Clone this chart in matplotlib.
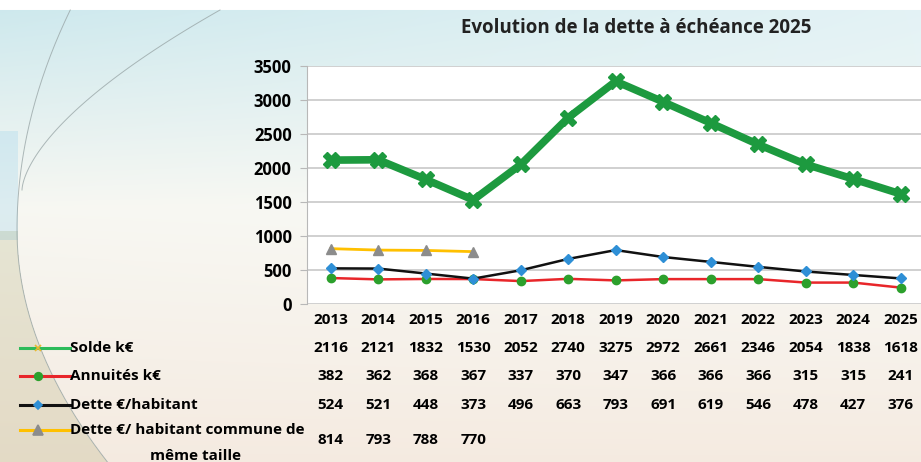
import numpy as np
import matplotlib
matplotlib.use("Agg")
import matplotlib.pyplot as plt
from matplotlib.transforms import blended_transform_factory

years = ["2013", "2014", "2015", "2016", "2017", "2018", "2019", "2020",
         "2021", "2022", "2023", "2024", "2025"]
solde = [2116, 2121, 1832, 1530, 2052, 2740, 3275, 2972, 2661, 2346, 2054, 1838, 1618]
annuites = [382, 362, 368, 367, 337, 370, 347, 366, 366, 366, 315, 315, 241]
dette_hab = [524, 521, 448, 373, 496, 663, 793, 691, 619, 546, 478, 427, 376]
dette_commune = [814, 793, 788, 770]
series_labels = ["Solde k€", "Annuités k€", "Dette €/habitant",
                 "Dette €/ habitant commune de\nmême taille"]
title = "Evolution de la dette à échéance 2025"

plt.rcParams['font.family'] = ['Open Sans', 'DejaVu Sans']

W, H = 921, 462
fig = plt.figure(figsize=(W / 100, H / 100), dpi=100)

# background gradient
bg = fig.add_axes([0, 0, 1, 1], zorder=-10)
yy = np.linspace(0, 1, H)[:, None]
xx = np.linspace(0, 1, W)[None, :]
top = np.array([0.80, 0.91, 0.93])
mid = np.array([0.97, 0.97, 0.95])
bot = np.array([0.96, 0.92, 0.88])
t = np.clip(yy / 0.45, 0, 1)[..., None]
t2 = np.clip((yy - 0.45) / 0.55, 0, 1)[..., None]
img = np.where(yy[..., None] < 0.45,
               top * (1 - t) + mid * t,
               mid * (1 - t2) + bot * t2)
img = img * np.ones((1, W, 1))
img = img + (1 - img) * (0.45 * xx[..., None] * (1 - yy[..., None]))
ypix = np.arange(H)[:, None]
xpix = np.arange(W)[None, :]
# subtle blue band at far left
band = np.broadcast_to((xpix < 18) & (ypix > 130) & (ypix < 240), (H, W))
img[band] = img[band] * 0.75 + np.array([0.55, 0.80, 0.92]) * 0.25
img[:10, :, :] = 1.0
# greyish area left of lower curve
ca = 17 + 0.00168 * (ypix - 230) ** 2
lower = np.broadcast_to((ypix > 230) & (xpix < ca), (H, W))
img[lower] = img[lower] * np.array([0.93, 0.93, 0.88])
bg.imshow(img, aspect='auto', extent=[0, W, H, 0], origin='upper')
yc = np.linspace(10, 462, 200)
kx = np.where(yc > 230, 0.00168, 0.0011)
bg.plot(17 + kx * (yc - 230) ** 2, yc, color='#9aa7a8', lw=0.7, alpha=0.8)
yc2 = np.linspace(10, 190, 100)
bg.plot(22 + 198 * ((190 - yc2) / 180) ** 1.6, yc2, color='#9aa7a8', lw=0.7, alpha=0.8)
bg.set_xlim(0, W)
bg.set_ylim(H, 0)
bg.axis('off')

x = np.arange(len(years))
ax = fig.add_axes([307 / W, 1 - 304 / H, 13 * 47.5 / W, (304 - 66) / H])
ax.set_facecolor('white')
ax.set_xlim(-0.5, len(years) - 0.5)
ax.set_ylim(0, 3500)
ax.set_yticks(np.arange(0, 3501, 500))
ax.grid(axis='y', color='#c8c8c8', linewidth=1.2)
ax.set_axisbelow(True)
for s in ['top', 'right', 'bottom']:
    ax.spines[s].set_visible(False)
ax.spines['left'].set_color('#b8b8b8')
ax.tick_params(axis='y', length=5, color='#b8b8b8', labelsize=12, pad=6)
ax.tick_params(axis='x', length=0, labelbottom=False)
for lab in ax.get_yticklabels():
    lab.set_fontweight('bold')

ax.plot(x, annuites, color='#e8262a', lw=1.8, marker='o', ms=6,
        mfc='#2ca02c', mec='#2ca02c', zorder=3)
ax.plot(x, dette_hab, color='#111111', lw=1.8, marker='D', ms=5,
        mfc='#2e8fd6', mec='#2e8fd6', zorder=3)
ax.plot(x[:len(dette_commune)], dette_commune, color='#ffc000', lw=2,
        marker='^', ms=7, mfc='#8c8c8c', mec='#8c8c8c', zorder=3)
ax.plot(x, solde, color='#1d9a3f', lw=5.5, marker='X', ms=11,
        mfc='#1d9a3f', mec='#1d9a3f', zorder=4)

fig.text(636 / W, 1 - 28 / H, title, ha='center', va='center',
         fontsize=13.5, fontweight='bold', color='#222222')

tr = blended_transform_factory(ax.transData, fig.transFigure)
def fy(p):
    return 1 - p / H

FS = 11
for i, yr in enumerate(years):
    ax.text(i, fy(320), yr, transform=tr, ha='center', va='center',
            fontsize=FS, fontweight='bold', clip_on=False)

rows = [(solde, 348), (annuites, 376), (dette_hab, 405), (dette_commune, 440)]
for vals, py in rows:
    for i, v in enumerate(vals):
        ax.text(i, fy(py), str(v), transform=tr, ha='center', va='center',
                fontsize=FS, fontweight='bold', clip_on=False)

styles = [
    dict(color='#2dbb5a', marker='x', mc='#e8b830', ms=5),
    dict(color='#e8262a', marker='o', mc='#2ca02c', ms=5.5),
    dict(color='#111111', marker='D', mc='#2e8fd6', ms=4.5),
    dict(color='#ffc000', marker='^', mc='#8c8c8c', ms=6.5),
]
leg_y = [348, 376, 405, 430]
for st, py, lab in zip(styles, leg_y, series_labels):
    fig.add_artist(plt.Line2D([20 / W, 70 / W], [fy(py), fy(py)],
                              color=st['color'], lw=2.2))
    fig.add_artist(plt.Line2D([38 / W], [fy(py)], marker=st['marker'],
                              ms=st['ms'], mfc=st['mc'], mec=st['mc'],
                              mew=1.2, lw=0))
    if '\n' in lab:
        l1, l2 = lab.split('\n')
        fig.text(70 / W, fy(py), l1, ha='left', va='center',
                 fontsize=FS, fontweight='bold')
        fig.text(195 / W, fy(456), l2, ha='center', va='center',
                 fontsize=FS, fontweight='bold')
    else:
        fig.text(70 / W, fy(py), lab, ha='left', va='center',
                 fontsize=FS, fontweight='bold')

fig.savefig('out.png', dpi=100)
